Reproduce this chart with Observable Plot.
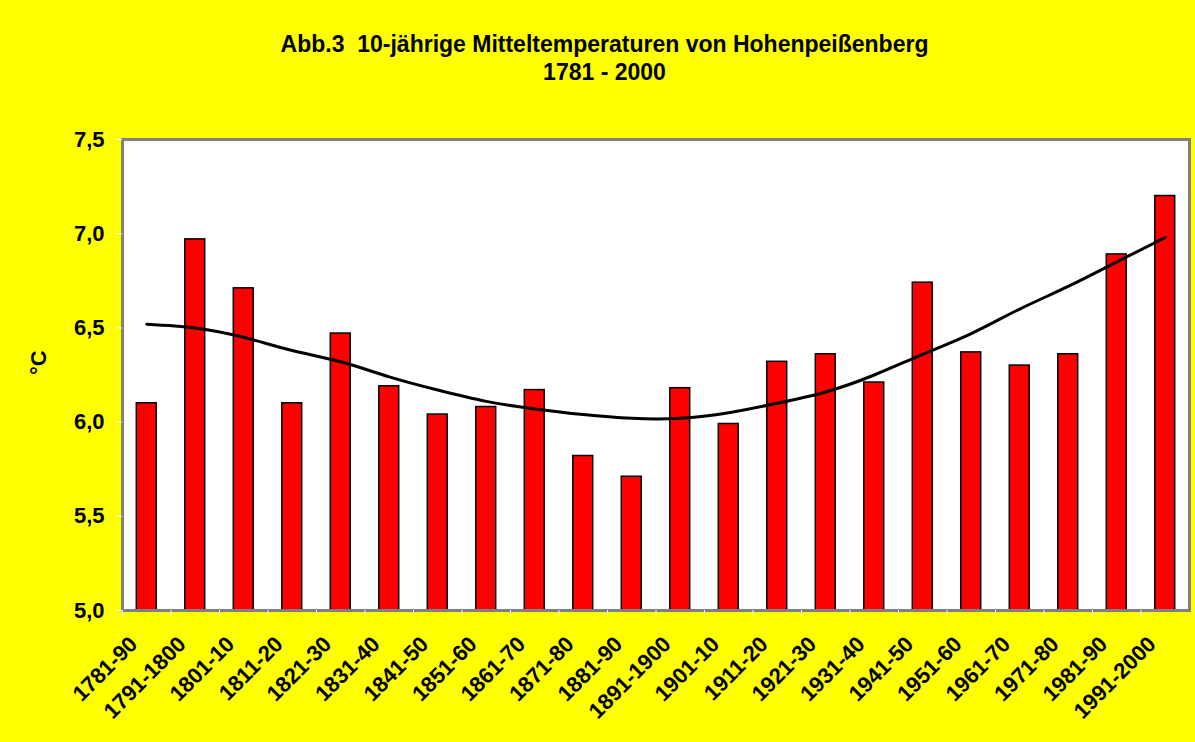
<!DOCTYPE html>
<html>
<head>
<meta charset="utf-8">
<script src="https://cdn.jsdelivr.net/npm/d3@7"></script>
<script src="https://cdn.jsdelivr.net/npm/@observablehq/plot@0.6"></script>
<style>
  html, body { margin: 0; padding: 0; background: #FFFF00; }
  body { width: 1195px; height: 742px; overflow: hidden; font-family: "Liberation Sans", Arial, sans-serif; }
  #title { height: 120px; box-sizing: border-box; padding-top: 30px; text-align: center; font-weight: bold; font-size: 23px; line-height: 28px; color: #000; padding-left: 14px; }
</style>
</head>
<body>
<div id="title">Abb.3&nbsp;&nbsp;10-jährige Mitteltemperaturen von Hohenpeißenberg<br>1781 - 2000</div>
<div id="chart"></div>
<script>
const periods = ["1781-90","1791-1800","1801-10","1811-20","1821-30","1831-40","1841-50","1851-60","1861-70","1871-80","1881-90","1891-1900","1901-10","1911-20","1921-30","1931-40","1941-50","1951-60","1961-70","1971-80","1981-90","1991-2000"];
const temps = [6.10, 6.97, 6.71, 6.10, 6.47, 6.19, 6.04, 6.08, 6.17, 5.82, 5.71, 6.18, 5.99, 6.32, 6.36, 6.21, 6.74, 6.37, 6.30, 6.36, 6.89, 7.20];
const trend = [6.52, 6.50, 6.45, 6.38, 6.32, 6.24, 6.17, 6.11, 6.07, 6.04, 6.02, 6.02, 6.05, 6.10, 6.16, 6.25, 6.36, 6.47, 6.60, 6.72, 6.85, 6.98];
const yDomain = [5.0, 7.5];
const yTicks = [5.0, 5.5, 6.0, 6.5, 7.0, 7.5];

const data = periods.map((p, i) => ({period: p, temp: temps[i], trend: trend[i]}));

const W = 1195, ML = 122, MR = 6;
const step = (W - ML - MR) / periods.length;
const fmt = d => d.toFixed(1).replace(".", ",");

const chart = Plot.plot({
  width: W,
  height: 622,
  marginLeft: ML,
  marginRight: MR,
  marginTop: 19,
  marginBottom: 132,
  style: {background: "transparent", fontFamily: "'Liberation Sans', Arial, sans-serif", fontWeight: "bold", color: "black", fontSize: "20px"},
  x: {domain: periods, paddingInner: 0.59, paddingOuter: 0.295, round: false, label: null},
  y: {domain: yDomain, ticks: yTicks, label: null},
  marks: [
    Plot.frame({fill: "white", stroke: "none"}),
    Plot.barY(data, {x: "period", y1: () => yDomain[0], y2: "temp", fill: "#FF0000", stroke: "black", strokeWidth: 1.5}),
    Plot.line(data, {x: "period", y: "trend", curve: "natural", stroke: "black", strokeWidth: 3}),
    Plot.frame({stroke: "#808080", strokeWidth: 3}),
    Plot.axisY({ticks: yTicks, tickFormat: fmt, tickSize: 6, tickPadding: 12, stroke: "white", fill: "black", label: null}),
    Plot.axisX({tickSize: 6, dx: -step / 2, stroke: "white", tickFormat: () => "", label: null}),
    Plot.axisX({tickSize: 0, tickRotate: -45, tickPadding: 30, dx: -13, fill: "black", label: null}),
    Plot.text(["°C"], {frameAnchor: "left", dx: -84, rotate: -90, fill: "black"})
  ]
});
d3.select(chart).selectAll("g[aria-label='y-axis tick label'] text").attr("font-size", 22);
d3.select(chart).selectAll("g[aria-label='text'] text").attr("font-size", 22);
d3.select(chart).selectAll("g[aria-label='x-axis tick label'] text").attr("font-size", 22);
document.getElementById("chart").appendChild(chart);
</script>
</body>
</html>
